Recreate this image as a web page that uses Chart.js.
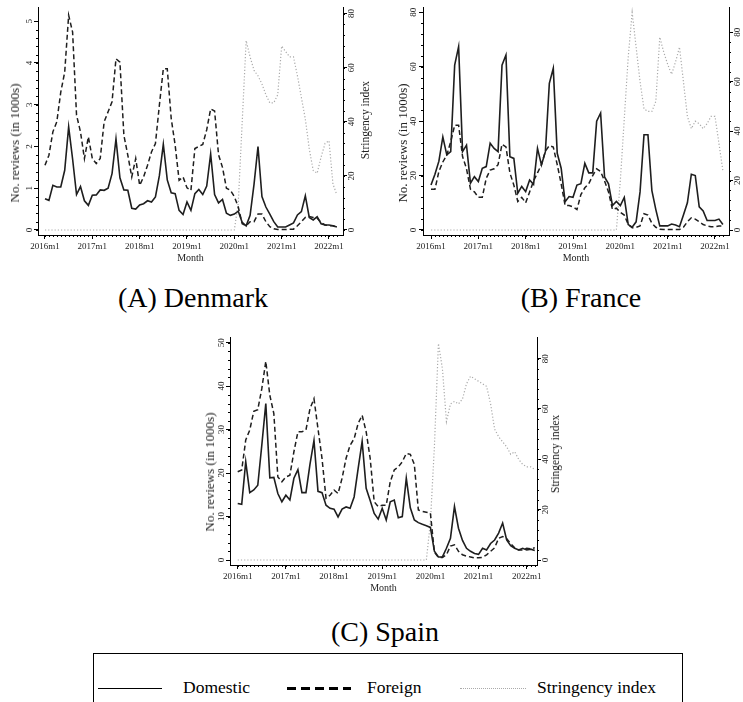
<!DOCTYPE html>
<html><head><meta charset="utf-8">
<script src="https://cdn.jsdelivr.net/npm/chart.js@4/dist/chart.umd.min.js"></script>
<style>
html,body{margin:0;padding:0;background:#fff;}
body{width:743px;height:702px;overflow:hidden;position:relative;color:#000;}
.serif{font-family:'Liberation Serif','Times New Roman',Times,'DejaVu Serif',serif;}
canvas{position:absolute;}
.ptitle{position:absolute;font-size:28px;white-space:nowrap;transform:translate(-50%,-50%);}
.ytitle{position:absolute;font-size:13px;color:#222;white-space:nowrap;transform:translate(-50%,-50%) rotate(-90deg);}
.rtitle{position:absolute;font-size:11.5px;color:#222;white-space:nowrap;transform:translate(-50%,-50%) rotate(-90deg);}
#legend{position:absolute;left:93px;top:653px;width:590px;height:80px;border:1px solid #000;box-sizing:border-box;}
.lg{position:absolute;top:34px;font-size:17.5px;line-height:1;transform:translateY(-50%);white-space:nowrap;}
.ls{position:absolute;top:34px;height:0;}
</style></head>
<body>
<canvas id="cA" width="370" height="270" style="left:0;top:0"></canvas>
<canvas id="cB" width="373" height="270" style="left:370px;top:0"></canvas>
<canvas id="cC" width="390" height="270" style="left:180px;top:330px"></canvas>
<div class="ytitle serif" style="left:15px;top:143px">No. reviews (in 1000s)</div>
<div class="ytitle serif" style="left:403px;top:143px">No. reviews (in 1000s)</div>
<div class="ytitle serif" style="left:210px;top:472px">No. reviews (in 1000s)</div>
<div class="rtitle serif" style="left:365px;top:120px">Stringency index</div>
<div class="rtitle serif" style="left:555px;top:454px">Stringency index</div>
<div class="ptitle serif" style="left:193px;top:298px">(A) Denmark</div>
<div class="ptitle serif" style="left:581px;top:298px">(B) France</div>
<div class="ptitle serif" style="left:385px;top:632px">(C) Spain</div>
<div id="legend">
  <div class="ls" style="left:4px;width:64px;border-top:1.6px solid #000"></div>
  <div class="lg serif" style="left:89px">Domestic</div>
  <div class="ls" style="left:193px;width:64px;height:2.5px;top:33px;background:repeating-linear-gradient(90deg,#000 0 9px,transparent 9px 14px)"></div>
  <div class="lg serif" style="left:273px">Foreign</div>
  <div class="ls" style="left:366px;width:66px;border-top:1.5px dotted #aaa"></div>
  <div class="lg serif" style="left:443px">Stringency index</div>
</div>
<script>
const months = ["2016m1","2016m2","2016m3","2016m4","2016m5","2016m6","2016m7","2016m8","2016m9","2016m10","2016m11","2016m12",
"2017m1","2017m2","2017m3","2017m4","2017m5","2017m6","2017m7","2017m8","2017m9","2017m10","2017m11","2017m12",
"2018m1","2018m2","2018m3","2018m4","2018m5","2018m6","2018m7","2018m8","2018m9","2018m10","2018m11","2018m12",
"2019m1","2019m2","2019m3","2019m4","2019m5","2019m6","2019m7","2019m8","2019m9","2019m10","2019m11","2019m12",
"2020m1","2020m2","2020m3","2020m4","2020m5","2020m6","2020m7","2020m8","2020m9","2020m10","2020m11","2020m12",
"2021m1","2021m2","2021m3","2021m4","2021m5","2021m6","2021m7","2021m8","2021m9","2021m10","2021m11","2021m12",
"2022m1","2022m2","2022m3"];
const xTickLabels = ["2016m1","2017m1","2018m1","2019m1","2020m1","2021m1","2022m1"];

// Denmark (reviews in 1000s; stringency index)
const denmarkDomestic = [0.75,0.71,1.07,1.03,1.03,1.43,2.47,1.7,0.85,1.04,0.7,0.59,
0.83,0.84,0.96,0.95,1.0,1.35,2.18,1.25,0.96,0.95,0.52,0.5,
0.6,0.63,0.7,0.67,0.79,1.3,2.05,1.2,0.89,0.87,0.47,0.37,
0.67,0.47,0.87,0.97,0.85,1.05,1.82,0.85,0.65,0.73,0.4,0.35,
0.38,0.45,0.18,0.1,0.35,1.1,2.0,0.8,0.55,0.38,0.2,0.07,
0.07,0.07,0.12,0.17,0.36,0.44,0.82,0.3,0.24,0.32,0.15,0.12,
0.12,0.1,0.07];
const denmarkForeign = [1.55,1.79,2.35,2.59,3.3,3.78,5.14,4.74,2.75,2.35,1.71,2.23,
1.71,1.59,1.71,2.59,2.83,3.07,4.1,4.02,2.27,1.79,1.27,1.71,
1.07,1.27,1.55,1.87,2.07,2.99,3.86,3.86,2.67,2.03,1.19,1.27,
1.01,0.95,1.95,2.0,2.05,2.4,2.9,2.85,1.8,1.5,1.0,0.95,
0.8,0.55,0.15,0.1,0.2,0.2,0.38,0.38,0.2,0.08,0.03,0.01,
0.01,0.01,0.02,0.02,0.1,0.2,0.3,0.32,0.3,0.28,0.18,0.12,
0.1,0.1,0.07];
const denmarkStringency = [0,0,0,0,0,0,0,0,0,0,0,0,
0,0,0,0,0,0,0,0,0,0,0,0,
0,0,0,0,0,0,0,0,0,0,0,0,
0,0,0,0,0,0,0,0,0,0,0,0,
0,10,40,70,64,59,57,54,50,47,47,50,
68,66,64,64,57,49,41,30,22,21,27,32,
33,17,13];
const denmarkLeftTicks = [0,1,2,3,4,5];
const stringencyTicks = [0,20,40,60,80];

// France
const franceDomestic = [16.5,20.5,25.3,34.2,27.6,28.8,60.6,67.4,28.8,31.2,17.2,19.6,
17.8,22.7,23.3,31.9,30,28.8,60.6,64.3,26.9,26.3,13.5,16,
14.1,18.4,16.8,30,23.9,28.8,53.9,59.4,28.2,22.7,10.4,12.3,
12,16.5,17,24.5,21,21,40,43,19.5,17,9,10.5,
9,12,2,1,3,14,35,35,14.5,7.5,1.5,1.5,
1.5,2.2,1.8,1.2,5.5,10,20.5,20,8.5,7,3.5,3.5,
3.5,4,2];
const franceForeign = [15,15,21.5,25,27.5,32.5,38.5,38.5,27,22.5,15,14,
12,12,19,22,22.5,24,31.5,30.5,21,16.5,10.5,12,
10,14,18,21,24,29,31,30.5,24,17,9,9,
8.5,7.5,13,15.5,17,20,22.5,21.5,18,14,7.5,8,
6.5,5.5,2,0.8,1,1.5,6,5.5,2.5,1,0.3,0.2,
0.2,0.2,0.2,0.2,1,3,4.5,4,3,2,1.5,1.2,
1.2,1.5,1.5];
const franceStringency = [0,0,0,0,0,0,0,0,0,0,0,0,
0,0,0,0,0,0,0,0,0,0,0,0,
0,0,0,0,0,0,0,0,0,0,0,0,
0,0,0,0,0,0,0,0,0,0,0,0,
20,45,70,88,74,60,49,48,48,52,78,72,
67,63,68,74,60,46,41,44,43,41,43,46,
46,35,24];
const franceLeftTicks = [0,20,40,60,80];

// Spain
const spainDomestic = [13,12.8,22.6,15.5,16.1,17.2,26.4,36,18.9,19,15.3,13.4,
14.9,13.8,18.8,20.8,15.5,15.5,22,27.5,15.8,15.5,12.6,11.9,
11.7,9.9,11.7,12.2,11.9,14.5,21,27.3,16.5,13.7,10.7,9.4,
11.9,9.2,13.4,13.8,9.7,10,18.8,12,9.2,8.6,8.2,7.9,
7.5,2,0.7,0.7,2.7,5,12.3,7.3,4.5,2.7,2,1.5,
1.3,2.7,2.3,3.8,4.6,6.2,8.5,4.6,3.3,2.7,2.3,2.7,
2.3,2.5,2.2];
const spainForeign = [20.3,20.7,27.6,29.9,34.2,34.6,39.4,45.7,37.9,33.7,19.1,18,
19.1,19.5,24.9,29.5,29.5,29.9,34.8,37.1,30.2,23.4,14.2,14.9,
16.1,15.3,18.8,23.4,26.4,27.9,31.4,33.3,29.5,23.4,13.4,12.3,
12.6,12.6,18,20.7,21.4,22.6,24.5,24.3,22,11.5,11.2,11,
10.8,1.8,0.6,0.6,1.2,3.2,3.5,2,1.2,0.9,0.7,0.5,
0.5,0.6,1.2,2,2.8,5,5.4,4.9,3.8,2.8,2.3,2.3,
2.7,2.6,2.8];
const spainStringency = [0,0,0,0,0,0,0,0,0,0,0,0,
0,0,0,0,0,0,0,0,0,0,0,0,
0,0,0,0,0,0,0,0,0,0,0,0,
0,0,0,0,0,0,0,0,0,0,0,0,
15,45,86,76,55,62,63,62,64,70,73,72,
71,70,69,62,52,49,47,45,42,43,40,38,
37,37,36];
const spainLeftTicks = [0,10,20,30,40,50];

Chart.defaults.font.family = "'Liberation Serif', 'Times New Roman', Times, 'DejaVu Serif', serif";
Chart.defaults.color = '#222';

const minorTicks = {
  id: 'minorTicks',
  afterDraw(chart, args, o) {
    const ctx = chart.ctx;
    ctx.save();
    ctx.strokeStyle = '#000';
    ctx.lineWidth = 1;
    ctx.beginPath();
    const xs = chart.scales.x;
    for (let i = 0; i < months.length; i++) {
      const px = Math.round(xs.getPixelForValue(i)) + 0.5;
      ctx.moveTo(px, xs.top); ctx.lineTo(px, xs.top + 2);
    }
    const ys = chart.scales.y;
    for (let v = 0; v <= o.yTop + 1e-9; v += o.yMinor) {
      const py = Math.round(ys.getPixelForValue(v)) + 0.5;
      ctx.moveTo(ys.right, py); ctx.lineTo(ys.right - 2, py);
    }
    const y2 = chart.scales.y2;
    for (let v = 0; v <= 80 + 1e-9; v += 4) {
      const py = Math.round(y2.getPixelForValue(v)) + 0.5;
      ctx.moveTo(y2.left, py); ctx.lineTo(y2.left + 2, py);
    }
    ctx.stroke();
    ctx.restore();
  }
};

function makeChart(id, c) {
  const pts = arr => arr.map((v, i) => ({x: i, y: v}));
  const tickFont = {size: 9};
  const gridOpt = {drawOnChartArea: false, drawTicks: true, tickLength: 4, color: '#000', lineWidth: 1};
  const borderOpt = {display: true, color: '#000', width: 1};
  return new Chart(document.getElementById(id), {
    type: 'line',
    data: {datasets: [
      {label: 'Domestic', data: pts(c.dom), yAxisID: 'y', borderColor: '#1e1e1e', borderWidth: 1.6, pointRadius: 0, tension: 0, fill: false},
      {label: 'Foreign', data: pts(c.frn), yAxisID: 'y', borderColor: '#1e1e1e', borderWidth: 1.5, borderDash: [5, 3], pointRadius: 0, tension: 0, fill: false},
      {label: 'Stringency index', data: pts(c.str), yAxisID: 'y2', borderColor: '#aaaaaa', borderWidth: 1.2, borderDash: [1.2, 2], pointRadius: 0, tension: 0, fill: false}
    ]},
    options: {
      responsive: false, animation: false, events: [],
      layout: {padding: {top: 7, left: 0, right: 0, bottom: 0}},
      plugins: {legend: {display: false}, tooltip: {enabled: false}, minorTicks: {yMinor: c.yMinor, yTop: c.leftTicks[c.leftTicks.length - 1]}},
      scales: {
        x: {
          type: 'linear', position: 'bottom', min: c.xmin, max: c.xmax,
          afterFit: s => { s.height = 35; },
          afterBuildTicks: s => { s.ticks = xTickLabels.map(l => ({value: months.indexOf(l)})); },
          ticks: {callback: v => months[v], font: tickFont, color: '#222', padding: 2, maxRotation: 0, minRotation: 0, autoSkip: false},
          grid: gridOpt, border: borderOpt,
          title: {display: true, text: 'Month', font: {size: 10}, color: '#222', padding: {top: 0, bottom: 6}}
        },
        y: {
          type: 'linear', position: 'left', min: c.ymin, max: c.ymax,
          afterFit: s => { s.width = c.leftW; },
          afterBuildTicks: s => { s.ticks = c.leftTicks.map(v => ({value: v})); },
          ticks: {font: tickFont, color: '#222', minRotation: 90, maxRotation: 90, crossAlign: 'center', padding: c.lpad, autoSkip: false},
          grid: gridOpt, border: borderOpt
        },
        y2: {
          type: 'linear', position: 'right', min: c.y2min, max: c.y2max,
          afterFit: s => { s.width = c.rightW; },
          afterBuildTicks: s => { s.ticks = stringencyTicks.map(v => ({value: v})); },
          ticks: {font: tickFont, color: '#222', minRotation: 90, maxRotation: 90, crossAlign: 'center', padding: 0, autoSkip: false},
          grid: gridOpt, border: borderOpt
        }
      }
    },
    plugins: [minorTicks]
  });
}

makeChart('cA', {dom: denmarkDomestic, frn: denmarkForeign, str: denmarkStringency,
  xmin: -1.77, xmax: 75.55, ymin: -0.12, ymax: 5.33, y2min: -1.85, y2max: 82.3,
  leftW: 38, rightW: 27, leftTicks: denmarkLeftTicks, yMinor: 0.2, lpad: 2});
makeChart('cB', {dom: franceDomestic, frn: franceForeign, str: franceStringency,
  xmin: -2.03, xmax: 75.55, ymin: -1.84, ymax: 81.95, y2min: -2.02, y2max: 90.2,
  leftW: 53, rightW: 14, leftTicks: franceLeftTicks, yMinor: 4, lpad: 1});
makeChart('cC', {dom: spainDomestic, frn: spainForeign, str: spainStringency,
  xmin: -1.92, xmax: 74.56, ymin: -1.15, ymax: 51.3, y2min: -1.98, y2max: 88.6,
  leftW: 50, rightW: 33, leftTicks: spainLeftTicks, yMinor: 2, lpad: 0});
</script>
</body></html>
